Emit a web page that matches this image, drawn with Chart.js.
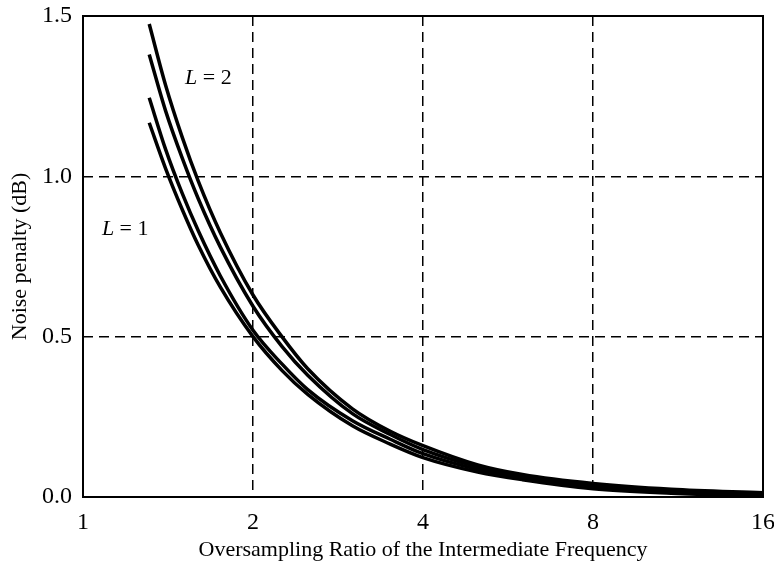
<!DOCTYPE html>
<html>
<head>
<meta charset="utf-8">
<script src="https://cdn.jsdelivr.net/npm/chart.js@4/dist/chart.umd.min.js"></script>
<style>
  body { margin: 0; background: #fff; }
  canvas { display: block; }
</style>
</head>
<body>
<canvas id="grafico" width="774" height="564"></canvas>
<script>
// razão de sobreamostragem (eixo x) e penalidade de ruído em dB das quatro curvas
const razoes = [1.31, 1.4, 1.5, 1.6, 1.75, 2, 2.25, 2.5, 3, 3.5, 4, 5, 6, 8, 11, 16];
const curvaA = [1.475, 1.285, 1.12, 0.985, 0.825, 0.63, 0.50, 0.40, 0.275, 0.205, 0.16, 0.10, 0.07, 0.042, 0.024, 0.013];
const curvaB = [1.38, 1.205, 1.055, 0.93, 0.78, 0.595, 0.47, 0.38, 0.26, 0.195, 0.148, 0.094, 0.065, 0.036, 0.02, 0.009];
const curvaC = [1.245, 1.085, 0.945, 0.83, 0.69, 0.52, 0.415, 0.335, 0.238, 0.18, 0.135, 0.086, 0.06, 0.031, 0.016, 0.006];
const curvaD = [1.167, 1.025, 0.895, 0.785, 0.655, 0.50, 0.395, 0.32, 0.222, 0.165, 0.123, 0.078, 0.054, 0.026, 0.012, 0.003];

const ticksX = [1, 2, 4, 8, 16];
const ticksY = [0, 0.5, 1.0, 1.5];
const rotulosL = ["2", "1"];

const fonteSerif = "'Liberation Serif', 'Times New Roman', serif";

function pontos(valores) {
    return razoes.map((r, i) => ({ x: r, y: valores[i] }));
}

function serie(valores) {
    return {
        data: pontos(valores),
        borderColor: "#000",
        borderWidth: 3.5,
        pointRadius: 0,
        fill: false,
        cubicInterpolationMode: "monotone",
    };
}

// moldura sólida e os rótulos "L = 2" / "L = 1"
const molduraERotulos = {
    id: "molduraERotulos",
    afterDraw(chart) {
        const { ctx, chartArea, scales } = chart;
        ctx.save();
        ctx.strokeStyle = "#000";
        ctx.lineWidth = 2;
        ctx.strokeRect(chartArea.left, chartArea.top, chartArea.right - chartArea.left, chartArea.bottom - chartArea.top);

        const posicoes = [{ x: 1.516, y: 1.288 }, { x: 1.08, y: 0.817 }];
        ctx.fillStyle = "#000";
        ctx.textBaseline = "alphabetic";
        rotulosL.forEach((valor, i) => {
            let px = scales.x.getPixelForValue(posicoes[i].x);
            const py = scales.y.getPixelForValue(posicoes[i].y);
            ctx.font = "italic 22px " + fonteSerif;
            ctx.fillText("L", px, py);
            px += ctx.measureText("L").width;
            ctx.font = "22px " + fonteSerif;
            ctx.fillText(" = " + valor, px, py);
        });
        ctx.restore();
    },
};

const ctx = document.getElementById("grafico").getContext("2d");
new Chart(ctx, {
    type: "line",
    data: {
        datasets: [serie(curvaA), serie(curvaB), serie(curvaC), serie(curvaD)],
    },
    options: {
        responsive: false,
        animation: false,
        layout: { padding: { top: 16, right: 11, left: 0, bottom: 0 } },
        plugins: {
            legend: { display: false },
            tooltip: { enabled: false },
        },
        scales: {
            x: {
                type: "logarithmic",
                min: 1,
                max: 16,
                afterBuildTicks: (escala) => {
                    escala.ticks = ticksX.map((v) => ({ value: v }));
                },
                afterFit: (escala) => {
                    escala.height = 67;
                    escala.paddingLeft = 0;
                    escala.paddingRight = 0;
                },
                grid: {
                    color: "#000",
                    lineWidth: 1.5,
                    drawTicks: false,
                },
                border: { display: false, dash: [10, 6] },
                ticks: {
                    color: "#000",
                    padding: 11,
                    maxRotation: 0,
                    autoSkip: false,
                    font: { family: fonteSerif, size: 24 },
                    callback: (v) => String(v),
                },
                title: {
                    display: true,
                    text: "Oversampling Ratio of the Intermediate Frequency",
                    color: "#000",
                    font: { family: fonteSerif, size: 22 },
                    padding: { top: 0, bottom: 1 },
                },
            },
            y: {
                min: 0,
                max: 1.5,
                afterBuildTicks: (escala) => {
                    escala.ticks = ticksY.map((v) => ({ value: v }));
                },
                afterFit: (escala) => {
                    escala.width = 83;
                    escala.paddingTop = 0;
                    escala.paddingBottom = 0;
                },
                grid: {
                    color: "#000",
                    lineWidth: 1.5,
                    drawTicks: false,
                },
                border: { display: false, dash: [10, 6] },
                ticks: {
                    color: "#000",
                    padding: 11,
                    font: { family: fonteSerif, size: 24 },
                    callback: (v) => v.toFixed(1),
                },
                title: {
                    display: true,
                    text: "Noise penalty (dB)",
                    color: "#000",
                    font: { family: fonteSerif, size: 22 },
                    padding: { top: 7, bottom: 0 },
                },
            },
        },
    },
    plugins: [molduraERotulos],
});
</script>
</body>
</html>
